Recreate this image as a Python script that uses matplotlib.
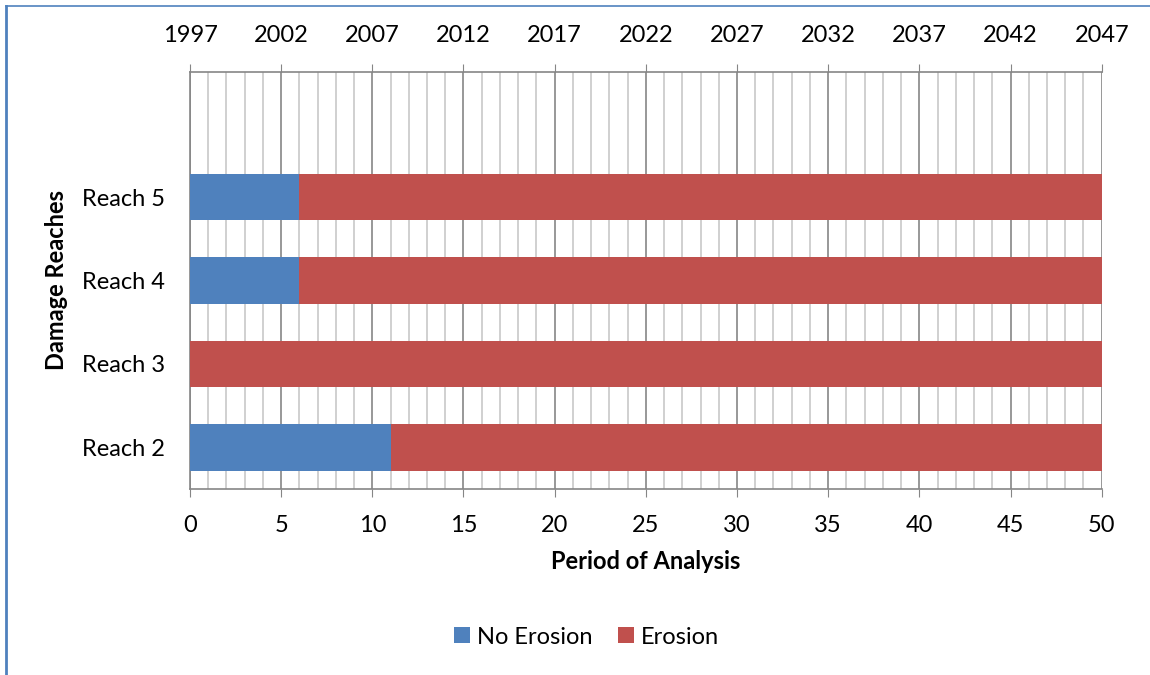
import matplotlib.pyplot as plt
import numpy as np
from matplotlib.lines import Line2D
from matplotlib.ticker import MultipleLocator

plt.rcParams['font.family'] = ['Lato', 'DejaVu Sans']

# Damage reaches (top slot left empty)
reaches = ['Reach 2', 'Reach 3', 'Reach 4', 'Reach 5', '']
no_erosion = [11, 0, 6, 6]
erosion = [39, 50, 44, 44]
start_year = 1997
period = 50

fs = 17
fig = plt.figure(figsize=(11.5, 6.75), dpi=100)
ax = fig.add_axes([0.1652, 0.2756, 0.7928, 0.6177])

y = np.arange(len(no_erosion))
ax.barh(y, no_erosion, height=0.56, color='#4F81BD', label='No Erosion', zorder=3)
ax.barh(y, erosion, left=no_erosion, height=0.56, color='#C0504D', label='Erosion', zorder=3)

ax.set_xlim(0, period)
ax.set_ylim(-0.5, len(reaches) - 0.5)
ax.set_yticks(np.arange(len(reaches)))
ax.set_yticklabels(reaches, fontsize=fs)
ax.tick_params(axis='y', length=0, pad=18)

ax.xaxis.set_major_locator(MultipleLocator(5))
ax.xaxis.set_minor_locator(MultipleLocator(1))
ax.grid(which='major', axis='x', color='#868686', linewidth=1.2, zorder=1)
ax.grid(which='minor', axis='x', color='#C8C8C8', linewidth=1.2, zorder=0)
ax.tick_params(axis='x', which='major', length=6, color='#868686', labelsize=fs, pad=13)
ax.tick_params(axis='x', which='minor', length=0)

for side in ['top', 'bottom', 'left']:
    ax.spines[side].set_color('#868686')
    ax.spines[side].set_linewidth(1.2)
ax.spines['right'].set_visible(False)

ax.set_xlabel('Period of Analysis', fontsize=fs, fontweight='bold', labelpad=10)
ax.set_ylabel('Damage Reaches', fontsize=fs, fontweight='bold', labelpad=10)

# Calendar years on the top axis
top = ax.twiny()
top.set_xlim(0, period)
top.set_xticks(np.arange(0, period + 1, 5))
top.set_xticklabels([str(start_year + t) for t in range(0, period + 1, 5)])
top.tick_params(axis='x', length=6, color='#868686', labelsize=fs, pad=13)
for side in top.spines.values():
    side.set_visible(False)

fig.legend(loc='center', bbox_to_anchor=(0.51, 1 - 637 / 675), ncol=2, frameon=False,
           fontsize=fs, handlelength=0.68, handleheight=0.68, handletextpad=0.3,
           columnspacing=1.1)

# Chart area border
fig.add_artist(Line2D([6 / 1150, 1], [1 - 5.5 / 675, 1 - 5.5 / 675],
                      transform=fig.transFigure, color='#4F81BD', linewidth=1.2))
fig.add_artist(Line2D([6 / 1150, 6 / 1150], [0, 1 - 5.5 / 675],
                      transform=fig.transFigure, color='#4F81BD', linewidth=2))

fig.savefig('out.png', dpi=100)
